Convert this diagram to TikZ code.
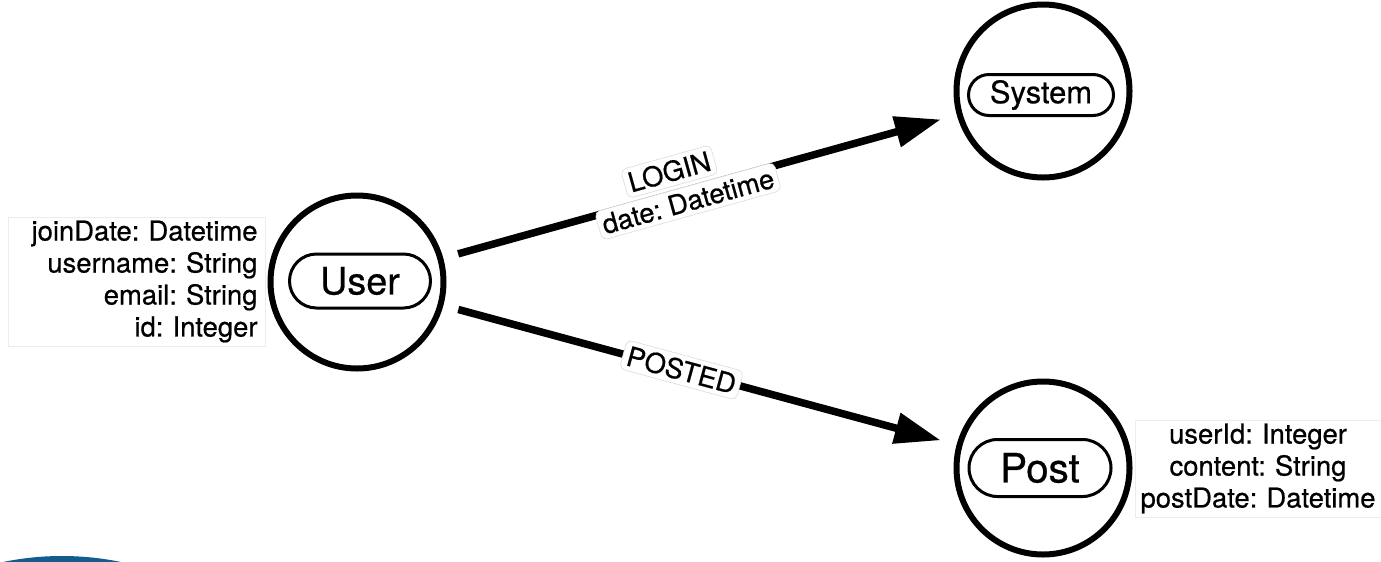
\documentclass[tikz,border=0pt]{standalone}
\usepackage{fontspec}
\setmainfont{TeX Gyre Heros}[FakeBold=0.6]
\usetikzlibrary{arrows.meta, shapes.misc, positioning}
\definecolor{logoblue}{HTML}{135C8E}

\tikzset{
    entity/.style={circle, draw, line width=0.12cm, minimum size=3.46cm, inner sep=0pt},
    tag/.style={rounded rectangle, draw, line width=0.06cm, inner sep=0pt},
    rel/.style={line width=0.15cm, -{Triangle[length=0.92cm, width=0.6cm]}, shorten <=0.31cm, shorten >=0.33cm},
    rellabel/.style={fill=white, draw=gray!25, line width=0.4pt, rounded corners=3pt, inner sep=2.5pt, font=\fontsize{15.6}{18}\selectfont},
    props/.style={draw=gray!15, fill=white, inner ysep=0pt, font=\fontsize{15.6}{18.2}\selectfont}
}

\begin{document}
\frenchspacing
\begin{tikzpicture}
    \useasboundingbox (0,0) rectangle (27.62,-11.22);

    % Logo (cut off at the bottom)
    \fill[logoblue] (1.24,-16.92) circle (5.8cm);

    % Entities
    \node[entity] (user) at (7.14,-5.64) {};
    \node[entity] (system) at (20.86,-1.82) {};
    \node[entity] (post) at (20.86,-9.36) {};

    % Entity names
    \node[tag, minimum width=2.82cm, minimum height=1.08cm, font=\fontsize{21.5}{24}\selectfont] (usertag) at (7.2,-5.62) {User};
    \node[tag, minimum width=2.9cm, minimum height=0.82cm, font=\fontsize{17.6}{20}\selectfont] (systemtag) at (20.82,-1.9) {System};
    \node[tag, minimum width=2.84cm, minimum height=1.14cm, font=\fontsize{23}{26}\selectfont] (posttag) at (20.8,-9.36) {Post};

    % Properties
    \node[props, inner xsep=0.15cm, text width=4.84cm, align=right, minimum height=2.58cm] (userprops) at (2.73,-5.63)
        {joinDate: Datetime\\ username: String\\ email: String\\ id: Integer};
    \node[props, inner xsep=0.04cm, text width=4.84cm, align=center, minimum height=1.94cm] (postprops) at (25.16,-9.37)
        {userId: Integer\\ content: String\\ postDate: Datetime};

    % Relationships
    \draw[rel] (user) -- node[rellabel, pos=0.452, sloped, yshift=0.45cm] (loginlbl) {LOGIN}
        node[rellabel, pos=0.471, sloped, yshift=-0.22cm] (logindate) {date: Datetime} (system);
    \draw[rel] (user) -- node[rellabel, pos=0.464, sloped] (postedlbl) {POSTED} (post);
\end{tikzpicture}
\end{document}
